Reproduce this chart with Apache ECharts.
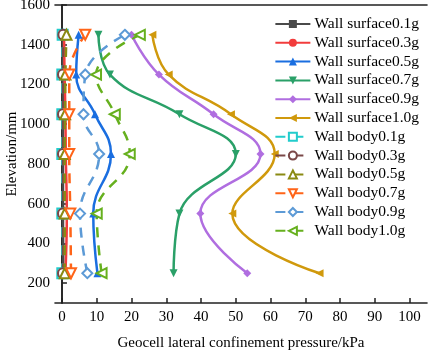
<!DOCTYPE html>
<html>
<head>
<meta charset="utf-8">
<script src="https://cdn.jsdelivr.net/npm/echarts@6/dist/echarts.min.js"></script>
<style>
  html, body { margin: 0; padding: 0; background: #fff; }
  #chart { width: 429px; height: 351px; }
</style>
</head>
<body>
<div id="chart"></div>
<script>
// elevation of each measuring point (mm)
const elevations = [250, 550, 850, 1050, 1250, 1450];
const xTicks = [0, 10, 20, 30, 40, 50, 60, 70, 80, 90, 100];
const yTicks = [200, 400, 600, 800, 1000, 1200, 1400, 1600];

// lateral confinement pressure (kPa), same order as elevations
const surface01 = [0.4, 0.3, 0.3, 0.3, 0.2, 0.3];
const surface03 = [1.0, 1.4, 1.1, 1.0, 0.75, 0.6];
const surface05 = [10.2, 9.0, 14.1, 9.5, 4.1, 4.8];
const surface07 = [32.1, 33.8, 50.0, 33.8, 13.8, 10.5];
const surface09 = [53.3, 39.8, 57.1, 43.6, 27.9, 20.0];
const surface10 = [74.1, 49.0, 61.2, 48.6, 30.7, 26.0];
const body01 = [0.1, 0.1, 0.1, 0.1, 0.1, 0.2];
const body03 = [0.3, 0.3, 0.3, 0.3, 0.3, 0.4];
const body05 = [0.8, 0.8, 0.8, 0.9, 1.0, 1.3];
const body07 = [2.6, 2.4, 2.1, 2.1, 2.1, 6.7];
const body09 = [7.3, 5.2, 10.7, 6.2, 6.7, 18.1];
const body10 = [11.4, 10.0, 19.5, 15.2, 9.8, 22.4];

const legendOrder = ['Wall surface0.1g', 'Wall surface0.3g', 'Wall surface0.5g', 'Wall surface0.7g',
  'Wall surface0.9g', 'Wall surface1.0g', 'Wall body0.1g', 'Wall body0.3g',
  'Wall body0.5g', 'Wall body0.7g', 'Wall body0.9g', 'Wall body1.0g'];

function pts(vals) {
  return vals.map((v, i) => [v, elevations[i]]);
}

function surface(name, vals, color, symbol, rotate) {
  return {
    name: name, type: 'line', data: pts(vals), smooth: 0.45,
    symbol: symbol, symbolSize: 8, symbolRotate: rotate || 0,
    lineStyle: { color: color, width: 2.5 },
    itemStyle: { color: color }
  };
}

function body(name, vals, color, symbol, rotate) {
  return {
    name: name, type: 'line', data: pts(vals), smooth: 0.45,
    symbol: symbol, symbolSize: 10, symbolRotate: rotate || 0,
    lineStyle: { color: color, width: 2.5, type: [10, 8] },
    itemStyle: { color: color, borderColor: color, borderWidth: 1 }
  };
}

const chart = echarts.init(document.getElementById('chart'));
const font = 'Liberation Serif, Times New Roman, serif';
const frameLine = { show: true, lineStyle: { color: '#222', width: 1.6 } };
chart.setOption({
  animation: false,
  grid: {
    left: 55, right: 2, top: 5, bottom: 48,
    outerBoundsMode: 'none', containLabel: false
  },
  legend: {
    data: legendOrder,
    orient: 'vertical', right: 5, top: 11,
    itemWidth: 35, itemHeight: 10, itemGap: 2.8,
    textStyle: { fontFamily: font, fontSize: 15.5, color: '#000', padding: [0, 0, 0, -1] }
  },
  xAxis: [{
    type: 'value', min: -2, max: 105,
    name: 'Geocell lateral confinement pressure/kPa',
    nameLocation: 'middle', nameGap: 33, nameMoveOverlap: false,
    nameTextStyle: { fontFamily: font, fontSize: 15, color: '#000' },
    splitLine: { show: false },
    axisLine: frameLine,
    axisTick: { inside: true, length: 5, customValues: xTicks, lineStyle: { color: '#222', width: 1.5 } },
    axisLabel: { customValues: xTicks, formatter: v => String(v), fontFamily: font, fontSize: 15, color: '#000', margin: 7 }
  }, {
    type: 'value', position: 'top', min: -2, max: 105,
    axisLine: frameLine, axisTick: { show: false }, axisLabel: { show: false }, splitLine: { show: false }
  }],
  yAxis: [{
    type: 'value', min: 100, max: 1600,
    name: 'Elevation/mm',
    nameLocation: 'middle', nameGap: 35, nameMoveOverlap: false,
    nameTextStyle: { fontFamily: font, fontSize: 15, color: '#000' },
    splitLine: { show: false },
    axisLine: frameLine,
    axisTick: { inside: true, length: 5, customValues: yTicks, lineStyle: { color: '#222', width: 1.5 } },
    axisLabel: { customValues: yTicks, formatter: v => String(v), fontFamily: font, fontSize: 15, color: '#000', margin: 5 }
  }, {
    type: 'value', position: 'right', min: 100, max: 1600,
    axisLine: frameLine, axisTick: { show: false }, axisLabel: { show: false }, splitLine: { show: false }
  }],
  series: [
    surface('Wall surface0.1g', surface01, '#4a4a4a', 'rect'),
    surface('Wall surface0.3g', surface03, '#f23c3c', 'circle'),
    surface('Wall surface0.5g', surface05, '#1a6ee0', 'triangle'),
    surface('Wall surface0.7g', surface07, '#2aa068', 'triangle', 180),
    surface('Wall surface0.9g', surface09, '#b06ee0', 'diamond'),
    surface('Wall surface1.0g', surface10, '#d0990c', 'triangle', 90),
    body('Wall body0.1g', body01, '#22cccc', 'emptyRect'),
    body('Wall body0.3g', body03, '#7a4848', 'emptyCircle'),
    body('Wall body0.5g', body05, '#8a8a12', 'emptyTriangle'),
    body('Wall body0.7g', body07, '#ff6418', 'emptyTriangle', 180),
    body('Wall body0.9g', body09, '#5c9ad6', 'emptyDiamond'),
    body('Wall body1.0g', body10, '#66b01e', 'emptyTriangle', 90)
  ]
});
</script>
</body>
</html>
